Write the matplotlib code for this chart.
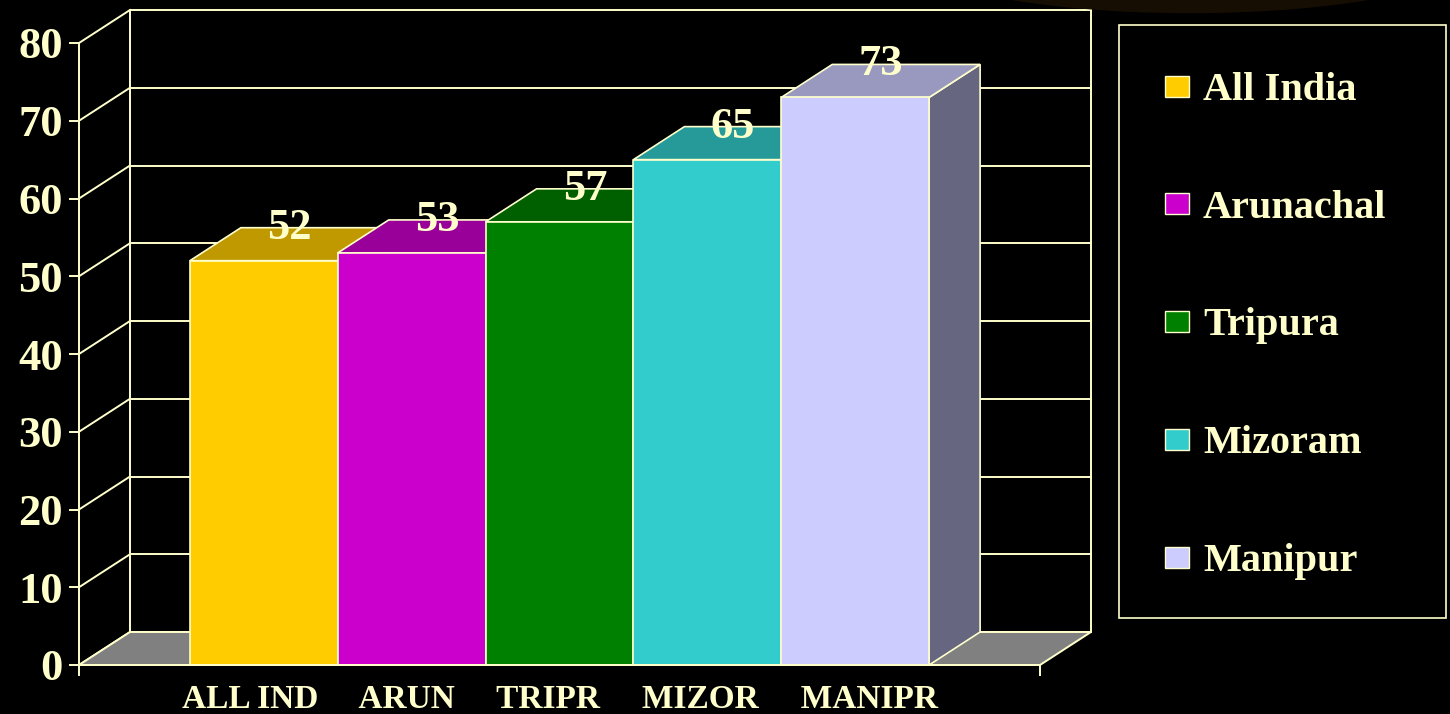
import matplotlib.pyplot as plt
from matplotlib.patches import Polygon, Rectangle, Ellipse

# data
series = ['All India', 'Arunachal', 'Tripura', 'Mizoram', 'Manipur']
values = [52, 53, 57, 65, 73]
xlabels = ['ALL IND', 'ARUN', 'TRIPR', 'MIZOR', 'MANIPR']
yticks = [0, 10, 20, 30, 40, 50, 60, 70, 80]

front_cols = ['#FFCC00', '#CC00CC', '#008000', '#33CCCC', '#CCCCFF']
top_cols = ['#C09900', '#990099', '#006000', '#269999', '#9999C0']
side_cols = ['#806600', '#660066', '#004000', '#1A6666', '#666680']

CREAM = '#FFFFCC'
W, H = 1450, 714
GAP = 1.5                 # gap width, in bar widths
span = len(values) + GAP  # front width of the plot floor
PX_X = 961 / span         # pixels per x unit
PX_Y = 622 / 80           # pixels per value unit
X0, Y0 = 79, 49           # pixel position of the origin (from bottom-left)
DX, DY = 51 / PX_X, 33 / PX_Y   # depth offset

plt.rcParams['font.family'] = ['Liberation Serif', 'DejaVu Serif']
plt.rcParams['font.weight'] = 'bold'

fig = plt.figure(figsize=(W / 100, H / 100), dpi=100, facecolor='black')
ax = fig.add_axes([0, 0, 1, 1])
ax.set_facecolor('black')
ax.set_xlim(-X0 / PX_X, (W - X0) / PX_X)
ax.set_ylim(-Y0 / PX_Y, (H - Y0) / PX_Y)
ax.axis('off')

# faint glow from the slide background
fig.patches.append(Ellipse((1190 / W, 1 + 45 / H), 560 / W, 115 / H,
                           transform=fig.transFigure, color='#170e03', zorder=0))

lw = 1.4
# left and back walls
for t in yticks:
    ax.plot([0, DX], [t, t + DY], color=CREAM, lw=lw, zorder=1)
    ax.plot([DX, span + DX], [t + DY, t + DY], color=CREAM, lw=lw, zorder=1)
ax.plot([DX, DX], [DY, 80 + DY], color=CREAM, lw=lw, zorder=1)
ax.plot([span + DX, span + DX], [DY, 80 + DY], color=CREAM, lw=lw, zorder=1)

# floor
ax.add_patch(Polygon([(0, 0), (span, 0), (span + DX, DY), (DX, DY)],
                     closed=True, facecolor='#808080', edgecolor=CREAM, lw=lw, zorder=2))

# bars
for i, v in enumerate(values):
    x = GAP / 2 + i
    z = 3 + i
    ax.add_patch(Polygon([(x + 1, 0), (x + 1 + DX, DY), (x + 1 + DX, v + DY), (x + 1, v)],
                         closed=True, facecolor=side_cols[i], edgecolor=CREAM, lw=1.2, zorder=z))
    ax.add_patch(Polygon([(x, v), (x + 1, v), (x + 1 + DX, v + DY), (x + DX, v + DY)],
                         closed=True, facecolor=top_cols[i], edgecolor=CREAM, lw=1.2, zorder=z))
    ax.add_patch(Rectangle((x, 0), 1, v, facecolor=front_cols[i], edgecolor=CREAM,
                           lw=1.2, zorder=z))
    ax.text(x + 0.5 + DX / 2, v + DY, str(v), color=CREAM, fontsize=32,
            ha='center', va='center', zorder=20)

# front axes
tick = 9 / PX_X
ax.plot([0, 0], [-10 / PX_Y, 80], color=CREAM, lw=lw, zorder=10)
ax.plot([0, span], [0, 0], color=CREAM, lw=lw, zorder=10)
ax.plot([span, span], [0, -10 / PX_Y], color=CREAM, lw=lw, zorder=10)
for t in yticks:
    ax.plot([-tick, 0], [t, t], color=CREAM, lw=lw, zorder=10)
    ax.text(-16 / PX_X, t, str(t), color=CREAM, fontsize=32,
            ha='right', va='center_baseline')

ax.text(span / 2, -43 / PX_Y, '     '.join(xlabels), color=CREAM, fontsize=24,
        ha='center', va='baseline')

# legend
fig.patches.append(Rectangle((1119 / W, 1 - 618 / H), 327 / W, 593 / H,
                             transform=fig.transFigure, facecolor='black',
                             edgecolor=CREAM, lw=1.2, zorder=1))
for i, name in enumerate(series):
    yc = 1 - (86 + i * 117.75) / H
    fig.patches.append(Rectangle((1165 / W, yc - 10.5 / H), 24 / W, 21 / H,
                                 transform=fig.transFigure, facecolor=front_cols[i],
                                 edgecolor=CREAM, lw=1.0, zorder=2))
    fig.text(1203 / W, yc, name, color=CREAM, fontsize=29, ha='left',
             va='center_baseline')

fig.savefig('out.png', dpi=100, facecolor='black')
